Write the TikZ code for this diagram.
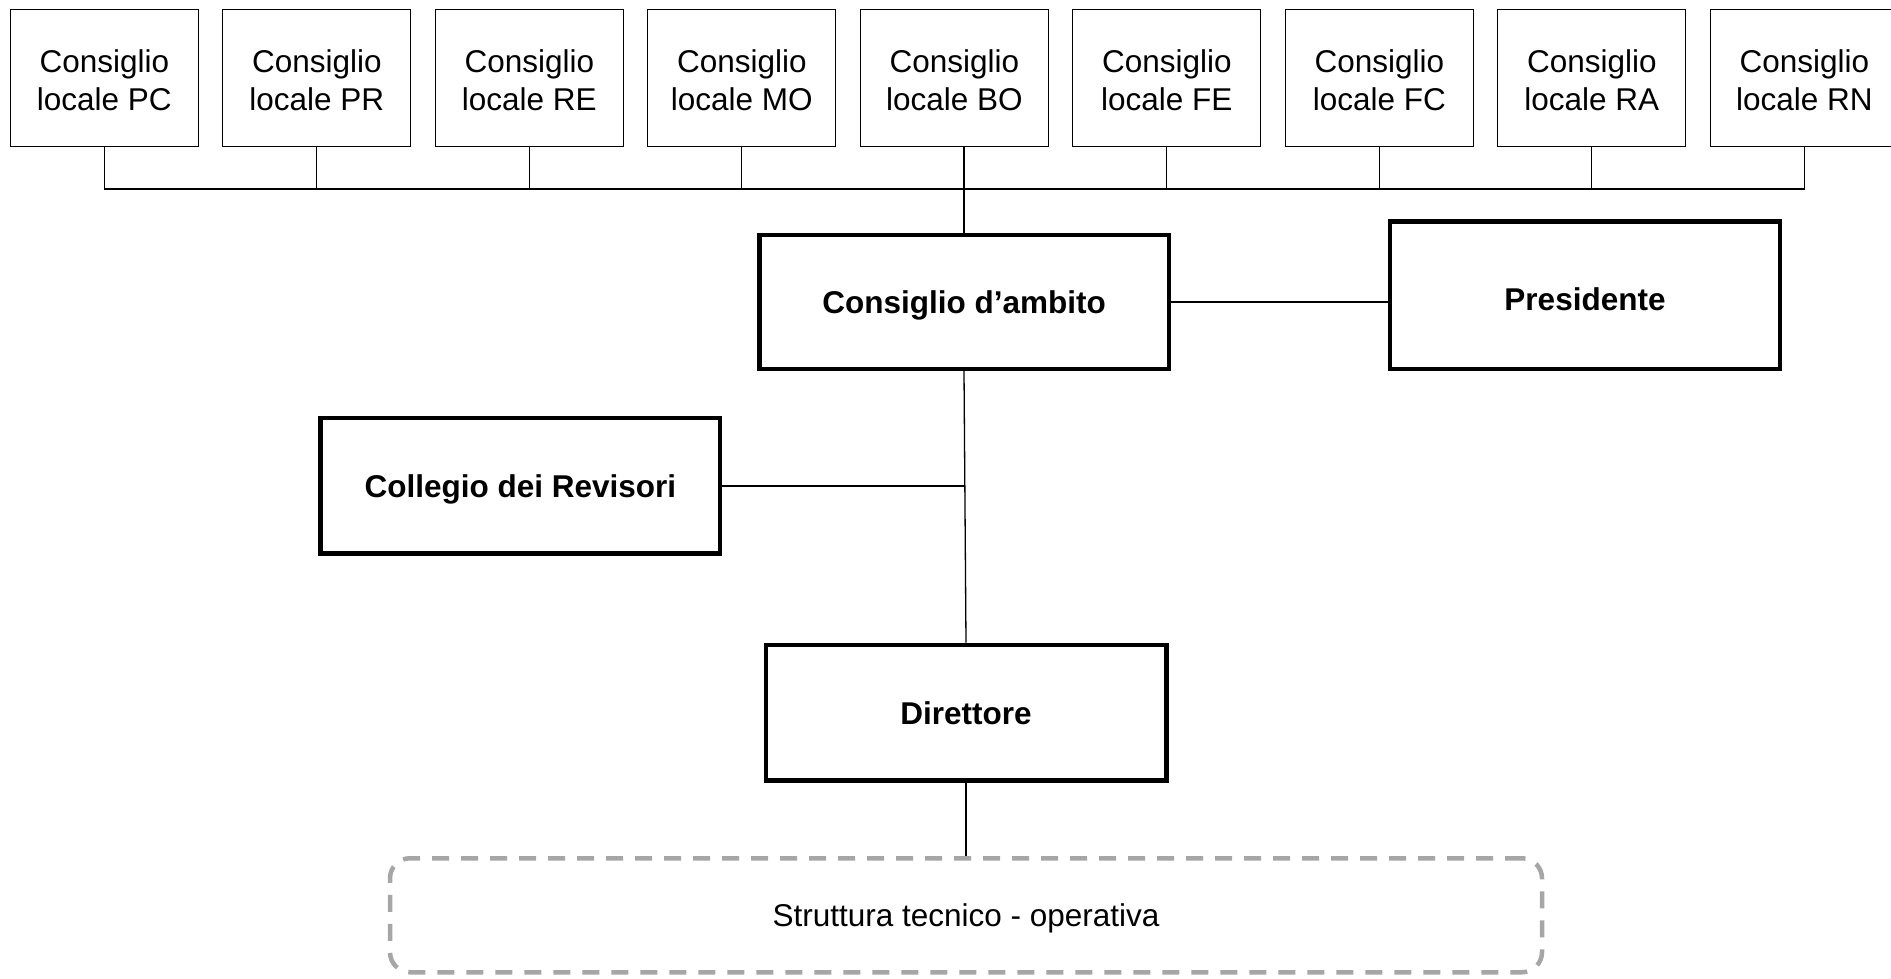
\documentclass[tikz,border=0pt]{standalone}
\usepackage{fontspec}
\setmainfont{Liberation Sans}
\usepackage{tikz}
\usetikzlibrary{positioning}
\definecolor{grigio}{RGB}{166,166,166}
\newcommand{\cloc}[1]{\rule{0pt}{27.5pt}Consiglio\\locale #1}
\tikzset{
	local/.style = {draw, line width=1.3pt, align=center, inner sep=0pt,
		minimum width=188pt, minimum height=137pt,
		font=\fontsize{31.5pt}{38.6pt}\selectfont},
	organo/.style = {draw, line width=4.5pt, align=center, inner sep=0pt, text depth=0pt,
		font=\fontsize{31.5pt}{38.6pt}\selectfont\bfseries},
	linea/.style = {line width=1.3pt}
}

\begin{document}
\begin{tikzpicture}[x=1pt, y=1pt, on grid, node distance=212.5pt]
		\useasboundingbox (0,0) rectangle (1891,978);
		% consigli locali
		\node (pc) [local] at (104.3,900.25) {\cloc{PC}};
		\node (pr) [local, right = of pc] {\cloc{PR}};
		\node (re) [local, right = of pr] {\cloc{RE}};
		\node (mo) [local, right = of re] {\cloc{MO}};
		\node (bo) [local, right = of mo] {\cloc{BO}};
		\node (fe) [local, right = of bo] {\cloc{FE}};
		\node (fc) [local, right = of fe] {\cloc{FC}};
		\node (ra) [local, right = of fc] {\cloc{RA}};
		\node (rn) [local, right = of ra] {\cloc{RN}};
		\coordinate (bus) at (0,789);
		% organi
		\node (ambito) [organo, minimum width=409.5pt, minimum height=134pt] at (964,676) {Consiglio d’ambito};
		\node (presidente) [organo, text height=30pt, minimum width=390pt, minimum height=147.5pt] at (1585,682.5) {Presidente};
		\node (collegio) [organo, minimum width=399.5pt, minimum height=135.5pt] at (520.4,492) {Collegio dei Revisori};
		\node (direttore) [organo, minimum width=400.5pt, minimum height=135.5pt] at (966,265.25) {Direttore};
		\node (struttura) [draw=grigio, line width=4.5pt, dash pattern=on 17pt off 12pt, rounded corners=20pt,
			text depth=0pt, minimum width=1152pt, minimum height=114pt, font=\fontsize{31.5pt}{38.6pt}\selectfont,
			below = 202.5pt of direttore] {Struttura tecnico - operativa};
		% collegamenti
		\draw[linea] (pc.south) -- (pc.south |- bus) -- (rn.south |- bus) -- (rn.south);
		\foreach \n in {pr, re, mo, fe, fc, ra}
			\draw[linea] (\n.south) -- (\n.south |- bus);
		\draw[linea] (bo.south -| ambito.north) -- (ambito.north);
		\draw[linea] (ambito.east) -- (ambito.east -| presidente.west);
		\draw[linea] (collegio.east) -- (collegio.east -| ambito.south);
		\draw[linea] (ambito.south) -- (direttore.north);
		\draw[linea] (direttore.south) -- (struttura.north);
	\end{tikzpicture}
\end{document}
